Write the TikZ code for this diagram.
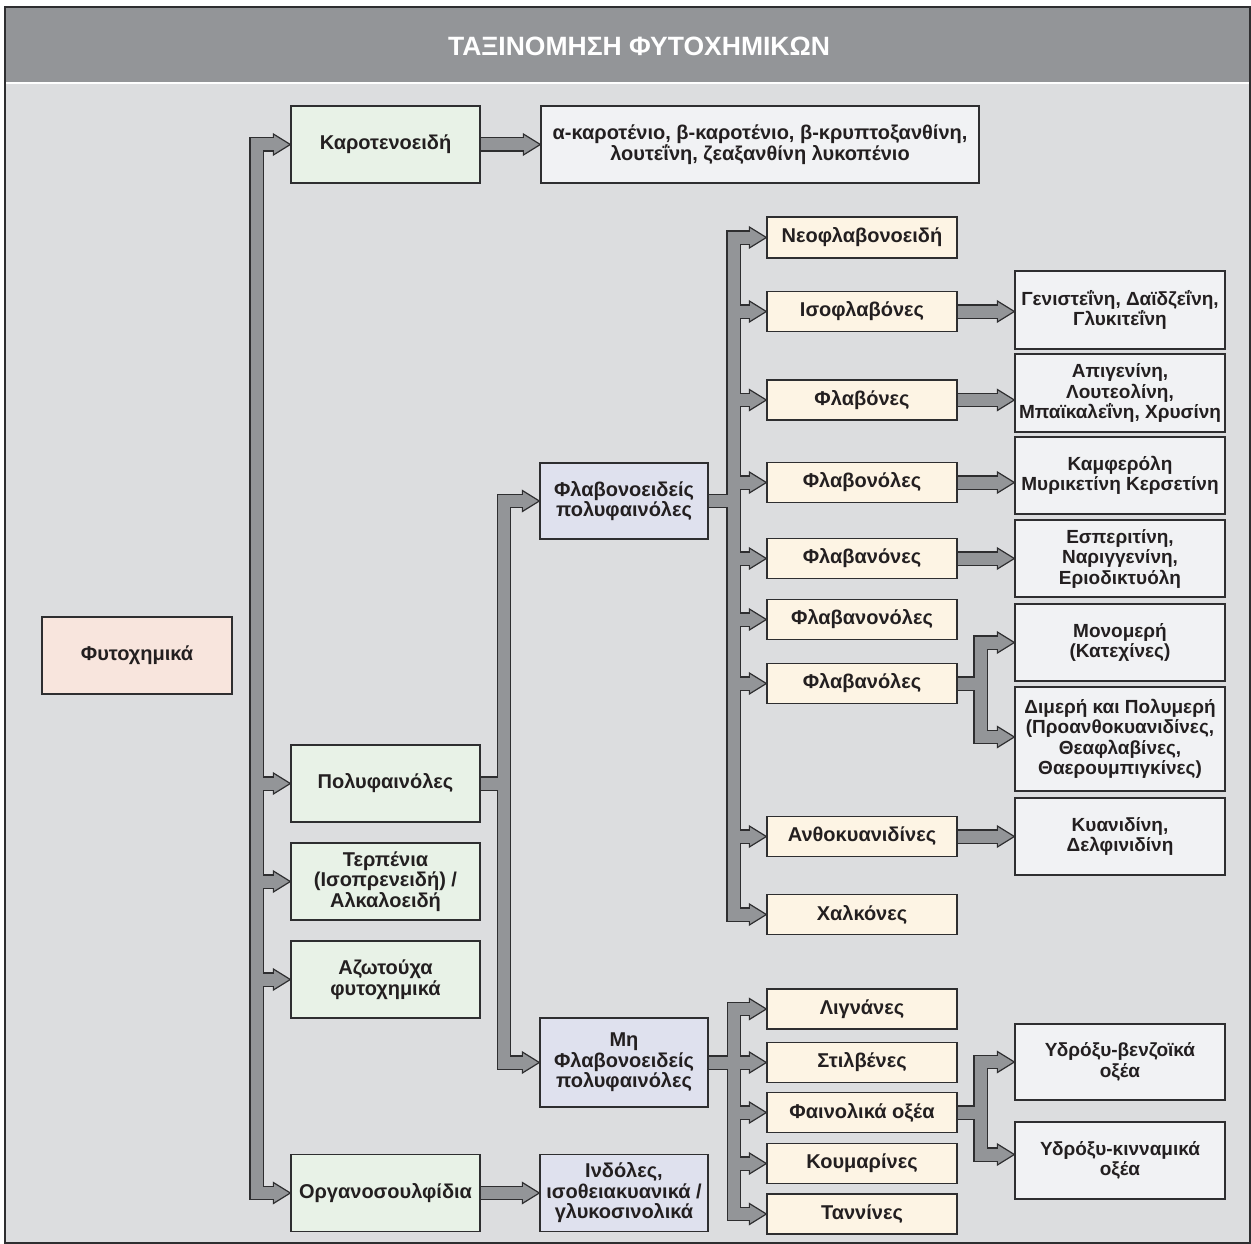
\documentclass[tikz,border=0pt]{standalone}
\usepackage{fontspec}
\setmainfont{Liberation Sans}
\pgfdeclarelayer{backdrop}
\pgfdeclarelayer{shaftline}
\pgfdeclarelayer{shafthead}
\pgfdeclarelayer{shaftfill}
\pgfsetlayers{backdrop,shaftline,shafthead,shaftfill,main}

\definecolor{barGray}{HTML}{939598}
\definecolor{panelGray}{HTML}{DCDDDF}
\definecolor{ink}{HTML}{231F20}
\definecolor{edge}{HTML}{2E2E30}
\definecolor{greenBox}{HTML}{E8F2E7}
\definecolor{pinkBox}{HTML}{F8E5DD}
\definecolor{lilacBox}{HTML}{DFE1EE}
\definecolor{creamBox}{HTML}{FDF4E4}
\definecolor{greyBox}{HTML}{F1F2F4}

% block-arrow connectors: dark outline, grey body, triangular head
\newcommand\shaft[1]{%
  \begin{pgfonlayer}{shaftline}\draw[shaftout] #1;\end{pgfonlayer}%
  \begin{pgfonlayer}{shaftfill}\draw[shaftin] #1;\end{pgfonlayer}}
\newcommand\tip[1]{%
  \begin{pgfonlayer}{shafthead}
    \path #1 coordinate (tipPt);
    \filldraw[tipst] ([shift={(-17,-10.5)}]tipPt) -- (tipPt) -- ([shift={(-17,10.5)}]tipPt) -- cycle;
  \end{pgfonlayer}}

\begin{document}
\begin{tikzpicture}[x=1pt,y=-1pt,
  box/.style={draw=edge, line width=1.3pt, text=ink, align=center, inner sep=0pt,
    font=\fontsize{20}{20.5}\selectfont\bfseries},
  lvlone/.style={box, fill=greenBox, minimum width=189pt, minimum height=77pt},
  rootbox/.style={box, fill=pinkBox, minimum width=190pt, minimum height=77pt},
  groupbox/.style={box, fill=lilacBox, minimum width=168pt},
  subbox/.style={box, fill=creamBox, minimum width=190pt, minimum height=40pt},
  leafbox/.style={box, fill=greyBox, minimum width=210pt, minimum height=77pt,
    font=\fontsize{19}{20.5}\selectfont\bfseries},
  shaftout/.style={draw=edge, line width=14.6pt, line join=miter},
  shaftin/.style={draw=barGray, line width=12pt, line join=miter},
  tipst/.style={fill=barGray, draw=edge, line width=1.2pt, line join=miter}]

\useasboundingbox (0,0) rectangle (1251,1244);

% panel and title bar
\begin{pgfonlayer}{backdrop}
  \fill[panelGray] (5,7) rectangle (1250,1243);
  \fill[barGray] (5,7) rectangle (1250,82);
  \draw[white, line width=2pt] (5,83.5) -- (1250,83.5);
  \draw[edge, line width=1.3pt] (5,7) rectangle (1250,1243);
\end{pgfonlayer}
\node[font=\fontsize{26.5}{30}\selectfont\bfseries, text=white] (title) at (639,46) {ΤΑΞΙΝΟΜΗΣΗ ΦΥΤΟΧΗΜΙΚΩΝ};

% root
\node[rootbox] (phy) at (137,655.5) {Φυτοχημικά};

% first level
\node[lvlone] (car) at (385.5,144.5) {Καροτενοειδή};
\node[lvlone] (pol) at (385.5,783.5) {Πολυφαινόλες};
\node[lvlone] (ter) at (385.5,881.5) {Τερπένια\\(Ισοπρενειδή) /\\Αλκαλοειδή};
\node[lvlone] (azo) at (385.5,979.5) {Αζωτούχα\\φυτοχημικά};
\node[lvlone] (org) at (385.5,1193) {Οργανοσουλφίδια};

% second level
\node[box, fill=greyBox, minimum width=438pt, minimum height=77pt] (carlist) at (760,144.5)
  {α-καροτένιο, β-καροτένιο, β-κρυπτοξανθίνη,\\λουτεΐνη, ζεαξανθίνη λυκοπένιο};
\node[groupbox, minimum height=76pt] (flav) at (624,501) {Φλαβονοειδείς\\πολυφαινόλες};
\node[groupbox, minimum height=89pt] (nonflav) at (624,1062.5) {Μη\\Φλαβονοειδείς\\πολυφαινόλες};
\node[groupbox, minimum height=77pt] (ind) at (624,1193) {Ινδόλες,\\ισοθειακυανικά /\\γλυκοσινολικά};

% flavonoid subgroups
\node[subbox, minimum height=41pt] (neo) at (862,237.5) {Νεοφλαβονοειδή};
\node[subbox] (iso) at (862,311.5) {Ισοφλαβόνες};
\node[subbox] (flavones) at (862,400) {Φλαβόνες};
\node[subbox] (flavonols) at (862,482.5) {Φλαβονόλες};
\node[subbox] (flavanones) at (862,558.5) {Φλαβανόνες};
\node[subbox] (flavanonols) at (862,619.5) {Φλαβανονόλες};
\node[subbox] (flavanols) at (862,683.5) {Φλαβανόλες};
\node[subbox] (antho) at (862,836.5) {Ανθοκυανιδίνες};
\node[subbox] (chalc) at (862,914.5) {Χαλκόνες};

% non-flavonoid subgroups
\node[subbox] (lign) at (862,1009) {Λιγνάνες};
\node[subbox] (stil) at (862,1062.5) {Στιλβένες};
\node[subbox] (phen) at (862,1112.5) {Φαινολικά οξέα};
\node[subbox] (coum) at (862,1163.5) {Κουμαρίνες};
\node[subbox] (tann) at (862,1214) {Ταννίνες};

% examples
\node[leafbox, minimum height=78pt] (gen) at (1120,310) {Γενιστεΐνη, Δαϊδζεΐνη,\\Γλυκιτεΐνη};
\node[leafbox, minimum height=78pt] (api) at (1120,393) {Απιγενίνη,\\Λουτεολίνη,\\Μπαϊκαλεΐνη, Χρυσίνη};
\node[leafbox] (kam) at (1120,475.5) {Καμφερόλη\\Μυρικετίνη Κερσετίνη};
\node[leafbox] (esp) at (1120,558.5) {Εσπεριτίνη,\\Ναριγγενίνη,\\Εριοδικτυόλη};
\node[leafbox] (mono) at (1120,642.5) {Μονομερή\\(Κατεχίνες)};
\node[leafbox, minimum height=104pt] (dim) at (1120,739) {Διμερή και Πολυμερή\\(Προανθοκυανιδίνες,\\Θεαφλαβίνες,\\Θαερουμπιγκίνες)};
\node[leafbox] (kya) at (1120,836.5) {Κυανιδίνη,\\Δελφινιδίνη};
\node[leafbox, minimum height=76pt] (hbenz) at (1120,1062) {Υδρόξυ-βενζοϊκά\\οξέα};
\node[leafbox] (hcinn) at (1120,1160.5) {Υδρόξυ-κινναμικά\\οξέα};

% trunk positions
\coordinate (tA) at (256.5,0);
\coordinate (tB) at (504,0);
\coordinate (tC) at (733.5,0);
\coordinate (tD) at (734,0);
\coordinate (tE) at (980.5,0);

% main trunk
\shaft{([xshift=-15pt]car.west) -| (tA |- org.west) -- ([xshift=-15pt]org.west)}
\foreach \n in {pol,ter,azo}{\shaft{(tA |- \n.west) -- ([xshift=-15pt]\n.west)}}
\foreach \n in {car,pol,ter,azo,org}{\tip{(\n.west)}}

% polyphenol split
\shaft{([xshift=-15pt]flav.west) -| (tB |- nonflav.west) -- ([xshift=-15pt]nonflav.west)}
\shaft{(pol.east) -- (tB |- pol.east)}
\tip{(flav.west)}
\tip{(nonflav.west)}

% flavonoid subgroups
\shaft{([xshift=-15pt]neo.west) -| (tC |- chalc.west) -- ([xshift=-15pt]chalc.west)}
\shaft{(flav.east) -- (tC |- flav.east)}
\foreach \n in {iso,flavones,flavonols,flavanones,flavanonols,flavanols,antho}{\shaft{(tC |- \n.west) -- ([xshift=-15pt]\n.west)}}
\foreach \n in {neo,iso,flavones,flavonols,flavanones,flavanonols,flavanols,antho,chalc}{\tip{(\n.west)}}

% non-flavonoid subgroups
\shaft{([xshift=-15pt]lign.west) -| (tD |- tann.west) -- ([xshift=-15pt]tann.west)}
\shaft{(nonflav.east) -- (tD |- nonflav.east)}
\foreach \n in {stil,phen,coum}{\shaft{(tD |- \n.west) -- ([xshift=-15pt]\n.west)}}
\foreach \n in {lign,stil,phen,coum,tann}{\tip{(\n.west)}}

% straight links
\shaft{(car.east) -- ([xshift=-15pt]carlist.west)}
\tip{(carlist.west)}
\shaft{(org.east) -- ([xshift=-15pt]ind.west)}
\tip{(ind.west)}
\foreach \a/\b in {iso/gen,flavones/api,flavonols/kam,flavanones/esp,antho/kya}{%
  \shaft{(\a.east) -- ([xshift=-15pt]\a.east -| \b.west)}
  \tip{(\a.east -| \b.west)}}

% forks
\coordinate (dimT) at ([yshift=2pt]dim.west);
\shaft{([xshift=-15pt]mono.west) -| (tE |- dimT) -- ([xshift=-15pt]dimT)}
\shaft{(flavanols.east) -- (tE |- flavanols.east)}
\tip{(mono.west)}
\tip{(dimT)}
\coordinate (hcT) at ([yshift=6pt]hcinn.west);
\shaft{([xshift=-15pt]hbenz.west) -| (tE |- hcT) -- ([xshift=-15pt]hcT)}
\shaft{(phen.east) -- (tE |- phen.east)}
\tip{(hbenz.west)}
\tip{(hcT)}
\end{tikzpicture}
\end{document}
